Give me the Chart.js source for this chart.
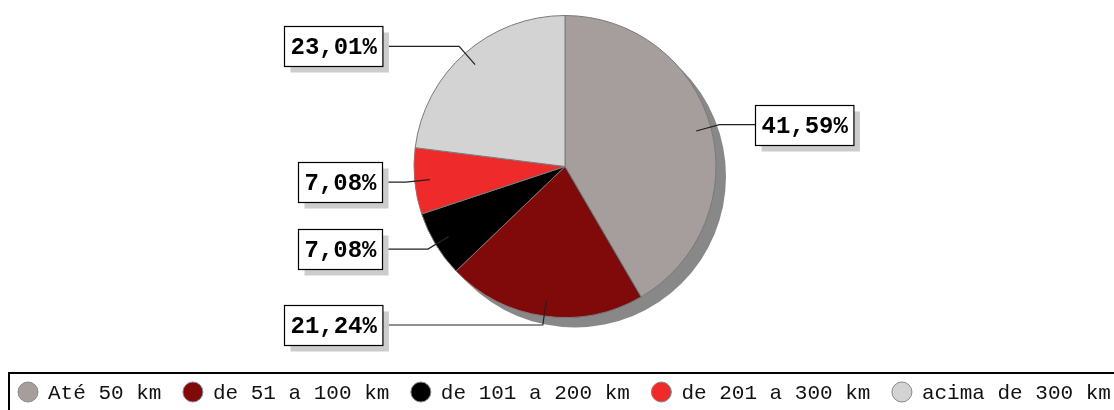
<!DOCTYPE html>
<html>
<head>
<meta charset="utf-8">
<script src="https://cdn.jsdelivr.net/npm/chart.js@4"></script>
<style>
  html, body { margin: 0; padding: 0; background: #fff; }
  #wrap { width: 1114px; height: 410px; }
</style>
</head>
<body>
<div id="wrap"><canvas id="myChart" width="1114" height="410"></canvas></div>
<script>
const categories = ['Até 50 km', 'de 51 a 100 km', 'de 101 a 200 km', 'de 201 a 300 km', 'acima de 300 km'];
const values = [41.59, 21.24, 7.08, 7.08, 23.01];
const colors = ['#a69e9d', '#800a0a', '#000000', '#ee2a2a', '#d3d3d3'];

function fmt(v) {
    return v.toFixed(2).replace('.', ',') + '%';
}

// grey shadow under the pie
const pieShadow = {
    id: 'pieShadow',
    beforeDatasetsDraw(chart) {
        const arc = chart.getDatasetMeta(0).data[0];
        if (!arc) return;
        const ctx = chart.ctx;
        ctx.save();
        ctx.fillStyle = '#888888';
        ctx.beginPath();
        ctx.arc(arc.x + 10, arc.y + 10, arc.outerRadius, 0, Math.PI * 2);
        ctx.fill();
        ctx.restore();
    }
};

// boxed percentage labels with leader lines
const boxLabels = {
    id: 'boxLabels',
    afterDatasetsDraw(chart) {
        const ctx = chart.ctx;
        const meta = chart.getDatasetMeta(0);
        ctx.save();
        ctx.font = 'bold 24px "Liberation Mono", "Courier New", monospace';
        ctx.textBaseline = 'middle';
        meta.data.forEach((arc, i) => {
            const a = (arc.startAngle + arc.endAngle) / 2;
            const r = arc.outerRadius;
            const cos = Math.cos(a), sin = Math.sin(a);
            const x1 = arc.x + cos * r * 0.9, y1 = arc.y + sin * r * 0.9;
            const x2 = arc.x + cos * r * 1.06, y2 = arc.y + sin * r * 1.06;
            const text = fmt(values[i]);
            const w = ctx.measureText(text).width + 12;
            const h = 40;
            let bx;
            let ex;
            if (cos >= 0) {
                bx = arc.x + r + 39;
                ex = bx;
            } else {
                bx = arc.x - r - 32 - w;
                ex = bx + w;
            }
            const by = Math.round(y2 - h / 2) + 0.5;
            bx = Math.round(bx) + 0.5;

            ctx.strokeStyle = '#222';
            ctx.lineWidth = 1.2;
            ctx.beginPath();
            ctx.moveTo(x1, y1);
            ctx.lineTo(x2, y2);
            ctx.lineTo(ex, y2);
            ctx.stroke();

            ctx.fillStyle = '#cccccc';
            ctx.fillRect(bx + 6, by + 6, w, h);
            ctx.fillStyle = '#ffffff';
            ctx.fillRect(bx, by, w, h);
            ctx.strokeStyle = '#000';
            ctx.lineWidth = 1.2;
            ctx.strokeRect(bx, by, w, h);

            ctx.fillStyle = '#000';
            ctx.textAlign = 'left';
            ctx.fillText(text, bx + 6, by + h / 2 + 1);
        });
        ctx.restore();
    }
};

// legend row inside a bordered box at the bottom
const boxLegend = {
    id: 'boxLegend',
    afterDraw(chart) {
        const ctx = chart.ctx;
        const cy = 392;
        ctx.save();
        ctx.strokeStyle = '#000';
        ctx.lineWidth = 2;
        ctx.strokeRect(9, 373, chart.width + 20, 60);
        ctx.font = '21px "Liberation Mono", "Courier New", monospace';
        ctx.textBaseline = 'middle';
        ctx.textAlign = 'left';
        let x = 18;
        categories.forEach((label, i) => {
            ctx.fillStyle = colors[i];
            ctx.strokeStyle = '#888';
            ctx.lineWidth = 1;
            ctx.beginPath();
            ctx.arc(x + 10, cy, 10, 0, Math.PI * 2);
            ctx.fill();
            ctx.stroke();
            ctx.fillStyle = '#111';
            ctx.fillText(label, x + 30, cy + 1);
            x += 30 + ctx.measureText(label).width + 21.5;
        });
        ctx.restore();
    }
};

const ctx = document.getElementById('myChart').getContext('2d');
const chart = new Chart(ctx, {
    type: 'pie',
    data: {
        labels: categories,
        datasets: [{
            data: values,
            backgroundColor: colors,
            borderColor: '#7a7a7a',
            borderWidth: 1
        }]
    },
    options: {
        responsive: false,
        animation: false,
        layout: {
            padding: { top: 15, bottom: 92, left: 16, right: 0 }
        },
        plugins: {
            legend: { display: false },
            tooltip: { enabled: false }
        }
    },
    plugins: [pieShadow, boxLabels, boxLegend]
});
</script>
</body>
</html>
